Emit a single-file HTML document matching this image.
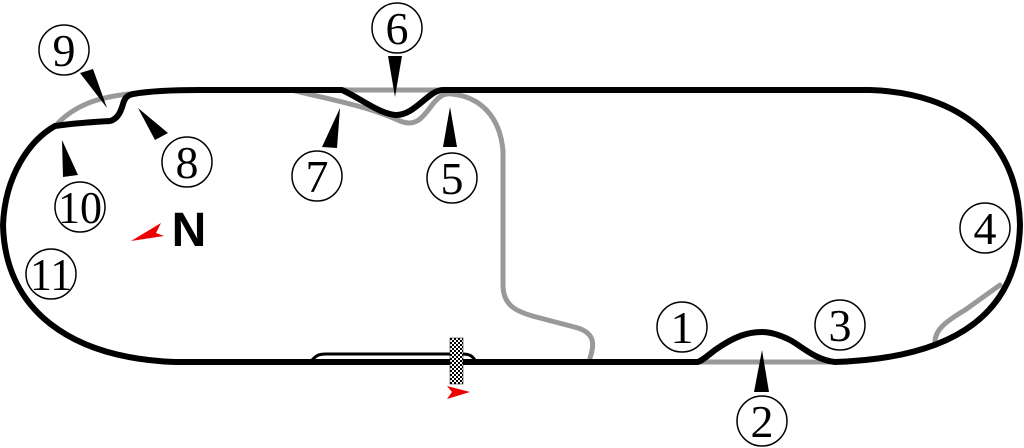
<!DOCTYPE html>
<html><head><style>
html,body{margin:0;padding:0;background:#fff;width:1024px;height:448px;overflow:hidden}
svg{display:block}
.n{font-family:"Liberation Serif",serif;font-size:46px;text-anchor:middle}
</style></head><body>
<svg width="1024" height="448" viewBox="0 0 1024 448" xmlns="http://www.w3.org/2000/svg">
<defs>
<pattern id="chk" width="4" height="4" patternUnits="userSpaceOnUse"><rect width="4" height="4" fill="#fff"/><rect width="2" height="2" fill="#000"/><rect x="2" y="2" width="2" height="2" fill="#000"/></pattern>
</defs>
<g fill="none" stroke="#999" stroke-width="5" stroke-linecap="round">
<path d="M295 91 C330 99 370 107 400 121 C415 127 422 119 432 105 C440 95 445 93 452 94 C480 97 500 116 503 151 L503 285 C503 305 515 312 540 318 L578 328 C596 334 594 346 590 358"/>
<path d="M342 90 L443 90"/>
<path d="M58 123 C75 106 95 98 128 94"/>
<path d="M697 362 L833 362"/>
<path d="M935 342 C935 330 945 322 965 310 L1000 285"/>
</g>
<g fill="none" stroke="#000" stroke-width="6" stroke-linejoin="round">
<path d="M133 94 C150 91 170 90 200 90 L342 90 C360 98 378 113 395 115 C415 116 428 90 443 90 L870 90 C960 93 1018 140 1020 225 C1018 310 960 358 835 362 C815 360 800 345 790 340 C778 334 770 332 762 332 C748 332 735 336 715 350 C705 358 700 362 697 362 L175 362 C70 358 5 310 3 225 C5 175 30 140 55 126 C75 123 95 122 110 121 C118 119 121 111 123 104 C125 97 128 95 133 94 Z"/>
</g>
<path d="M312 360 C316 356 318 354 326 354 L462 354 C470 354 472 356 475 360" fill="none" stroke="#000" stroke-width="3"/>
<rect x="450" y="338" width="13" height="46" fill="url(#chk)" stroke="#000" stroke-width="0.5"/>
<path d="M447 386 L470 392 L447 399 L452 392 Z" fill="#e00"/>
<path d="M131 241 L161 223 L156 233 L164 236 Z" fill="#e00"/>
<text x="189" y="246" font-family="Liberation Sans,sans-serif" font-weight="bold" font-size="48" text-anchor="middle">N</text>
<g fill="#000">
<path d="M80 73 L93 69 L107 108 Z"/>
<path d="M138 108 L155 140 L168 133 Z"/>
<path d="M62 140 L63 177 L78 175 Z"/>
<path d="M340 108 L322 147 L337 148 Z"/>
<path d="M388 56 L402 56 L395 97 Z"/>
<path d="M450 107 L443 147 L457 147 Z"/>
<path d="M762 350 L754 392 L769 392 Z"/>
</g>
<g fill="#fff" stroke="#000" stroke-width="1.5">
<circle cx="64" cy="50" r="25"/><circle cx="397" cy="28" r="25"/><circle cx="187" cy="162" r="25"/>
<circle cx="317" cy="176" r="25"/><circle cx="452" cy="178" r="25"/><circle cx="80" cy="207" r="25"/>
<circle cx="51" cy="274" r="25"/><circle cx="682" cy="327" r="25"/><circle cx="762" cy="421" r="25"/>
<circle cx="840" cy="325" r="25"/><circle cx="985" cy="228" r="25"/>
</g>
<g class="n">
<text x="64" y="66">9</text><text x="397" y="44">6</text><text x="187" y="178">8</text>
<text x="317" y="192">7</text><text x="452" y="194">5</text><text x="80" y="223" textLength="44" lengthAdjust="spacingAndGlyphs">10</text>
<text x="51" y="290" textLength="42" lengthAdjust="spacingAndGlyphs">11</text><text x="682" y="343">1</text><text x="762" y="437">2</text>
<text x="840" y="341">3</text><text x="985" y="244">4</text>
</g>
</svg>
</body></html>
